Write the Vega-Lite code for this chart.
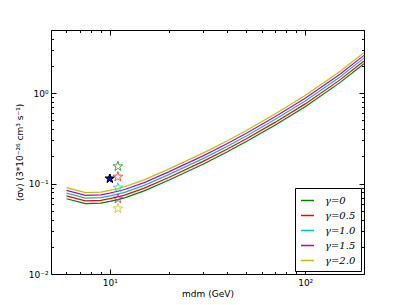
{
  "$schema": "https://vega.github.io/schema/vega-lite/v6.json",
  "autosize": {"type": "none"},
  "padding": {"left": 51, "top": 30, "right": 41, "bottom": 31},
  "width": 313,
  "height": 244,
  "config": {
    "view": {"stroke": "black", "strokeWidth": 1},
    "font": "DejaVu Sans",
    "axis": {"grid": false, "domain": false, "tickColor": "black", "tickWidth": 1, "labelColor": "black", "titleColor": "black", "labelFont": "DejaVu Sans", "titleFont": "DejaVu Sans", "titleFontWeight": "normal", "labelFontSize": 9, "titleFontSize": 9}
  },
  "datasets": {
    "curves": [
      {"m": 6, "sv": 0.068, "g": "γ=0"}, {"m": 7.5, "sv": 0.0600, "g": "γ=0"}, {"m": 9, "sv": 0.0608, "g": "γ=0"}, {"m": 10, "sv": 0.0635, "g": "γ=0"}, {"m": 11, "sv": 0.0665, "g": "γ=0"}, {"m": 12, "sv": 0.0700, "g": "γ=0"}, {"m": 15, "sv": 0.0830, "g": "γ=0"}, {"m": 20, "sv": 0.1090, "g": "γ=0"}, {"m": 30, "sv": 0.1640, "g": "γ=0"}, {"m": 40, "sv": 0.2250, "g": "γ=0"}, {"m": 50, "sv": 0.2920, "g": "γ=0"}, {"m": 70, "sv": 0.4430, "g": "γ=0"}, {"m": 100, "sv": 0.7100, "g": "γ=0"}, {"m": 150, "sv": 1.3000, "g": "γ=0"}, {"m": 200, "sv": 2.1200, "g": "γ=0"},
      {"m": 6, "sv": 0.0730, "g": "γ=0.5"}, {"m": 7.5, "sv": 0.0644, "g": "γ=0.5"}, {"m": 9, "sv": 0.0652, "g": "γ=0.5"}, {"m": 10, "sv": 0.0681, "g": "γ=0.5"}, {"m": 11, "sv": 0.0714, "g": "γ=0.5"}, {"m": 12, "sv": 0.0751, "g": "γ=0.5"}, {"m": 15, "sv": 0.0891, "g": "γ=0.5"}, {"m": 20, "sv": 0.1170, "g": "γ=0.5"}, {"m": 30, "sv": 0.1760, "g": "γ=0.5"}, {"m": 40, "sv": 0.2414, "g": "γ=0.5"}, {"m": 50, "sv": 0.3133, "g": "γ=0.5"}, {"m": 70, "sv": 0.4753, "g": "γ=0.5"}, {"m": 100, "sv": 0.7618, "g": "γ=0.5"}, {"m": 150, "sv": 1.395, "g": "γ=0.5"}, {"m": 200, "sv": 2.275, "g": "γ=0.5"},
      {"m": 6, "sv": 0.0783, "g": "γ=1.0"}, {"m": 7.5, "sv": 0.0691, "g": "γ=1.0"}, {"m": 9, "sv": 0.0700, "g": "γ=1.0"}, {"m": 10, "sv": 0.0732, "g": "γ=1.0"}, {"m": 11, "sv": 0.0766, "g": "γ=1.0"}, {"m": 12, "sv": 0.0806, "g": "γ=1.0"}, {"m": 15, "sv": 0.0956, "g": "γ=1.0"}, {"m": 20, "sv": 0.1256, "g": "γ=1.0"}, {"m": 30, "sv": 0.1889, "g": "γ=1.0"}, {"m": 40, "sv": 0.2592, "g": "γ=1.0"}, {"m": 50, "sv": 0.3364, "g": "γ=1.0"}, {"m": 70, "sv": 0.5103, "g": "γ=1.0"}, {"m": 100, "sv": 0.8179, "g": "γ=1.0"}, {"m": 150, "sv": 1.498, "g": "γ=1.0"}, {"m": 200, "sv": 2.442, "g": "γ=1.0"},
      {"m": 6, "sv": 0.0840, "g": "γ=1.5"}, {"m": 7.5, "sv": 0.0742, "g": "γ=1.5"}, {"m": 9, "sv": 0.0751, "g": "γ=1.5"}, {"m": 10, "sv": 0.0785, "g": "γ=1.5"}, {"m": 11, "sv": 0.0822, "g": "γ=1.5"}, {"m": 12, "sv": 0.0865, "g": "γ=1.5"}, {"m": 15, "sv": 0.1026, "g": "γ=1.5"}, {"m": 20, "sv": 0.1347, "g": "γ=1.5"}, {"m": 30, "sv": 0.2027, "g": "γ=1.5"}, {"m": 40, "sv": 0.2781, "g": "γ=1.5"}, {"m": 50, "sv": 0.3609, "g": "γ=1.5"}, {"m": 70, "sv": 0.5475, "g": "γ=1.5"}, {"m": 100, "sv": 0.8776, "g": "γ=1.5"}, {"m": 150, "sv": 1.607, "g": "γ=1.5"}, {"m": 200, "sv": 2.620, "g": "γ=1.5"},
      {"m": 6, "sv": 0.0902, "g": "γ=2.0"}, {"m": 7.5, "sv": 0.0796, "g": "γ=2.0"}, {"m": 9, "sv": 0.0806, "g": "γ=2.0"}, {"m": 10, "sv": 0.0842, "g": "γ=2.0"}, {"m": 11, "sv": 0.0882, "g": "γ=2.0"}, {"m": 12, "sv": 0.0928, "g": "γ=2.0"}, {"m": 15, "sv": 0.1101, "g": "γ=2.0"}, {"m": 20, "sv": 0.1445, "g": "γ=2.0"}, {"m": 30, "sv": 0.2175, "g": "γ=2.0"}, {"m": 40, "sv": 0.2984, "g": "γ=2.0"}, {"m": 50, "sv": 0.3872, "g": "γ=2.0"}, {"m": 70, "sv": 0.5874, "g": "γ=2.0"}, {"m": 100, "sv": 0.9415, "g": "γ=2.0"}, {"m": 150, "sv": 1.724, "g": "γ=2.0"}, {"m": 200, "sv": 2.811, "g": "γ=2.0"}
    ],
    "stars": [
      {"m": 11, "sv": 0.155, "g": "γ=0"},
      {"m": 11, "sv": 0.119, "g": "γ=0.5"},
      {"m": 11, "sv": 0.090, "g": "γ=1.0"},
      {"m": 11, "sv": 0.068, "g": "γ=1.5"},
      {"m": 11, "sv": 0.053, "g": "γ=2.0"}
    ],
    "best": [
      {"m": 10, "sv": 0.1135}
    ]
  },
  "resolve": {"axis": {"x": "independent", "y": "independent"}},
  "layer": [
    {
      "data": {"name": "curves"},
      "mark": {"type": "line", "strokeWidth": 1.2},
      "encoding": {
        "x": {"field": "m", "type": "quantitative", "scale": {"type": "log", "domain": [5, 200], "nice": false},
          "axis": {"orient": "bottom", "values": [10, 100], "tickSize": -5, "labelPadding": 9,
            "labelExpr": "datum.value == 10 ? '10¹' : '10²'", "title": "mdm (GeV)", "titlePadding": 2}},
        "y": {"field": "sv", "type": "quantitative", "scale": {"type": "log", "domain": [0.01, 5], "nice": false},
          "axis": {"orient": "left", "values": [0.01, 0.1, 1], "tickSize": -5, "labelPadding": 8,
            "labelExpr": "datum.value == 1 ? '10⁰' : datum.value == 0.1 ? '10⁻¹' : '10⁻²'", "title": "⟨σv⟩ (3*10⁻²⁶ cm³ s⁻¹)", "titlePadding": 4}},
        "color": {"field": "g", "type": "nominal",
          "scale": {"domain": ["γ=0", "γ=0.5", "γ=1.0", "γ=1.5", "γ=2.0"], "range": ["#008000", "#ff0000", "#00bfbf", "#bf00bf", "#bfbf00"]},
          "legend": {"orient": "bottom-right", "title": null, "offset": 3, "symbolType": "stroke", "symbolStrokeWidth": 1.5, "symbolSize": 169,
            "strokeColor": "black", "fillColor": "white", "padding": 5, "rowPadding": 2, "labelOffset": 10,
            "labelFont": "DejaVu Serif", "labelFontStyle": "italic", "labelFontSize": 10, "labelColor": "black"}}
      }
    },
    {
      "data": {"name": "stars"},
      "mark": {"type": "point", "shape": "M0,-1L0.225,-0.309L0.951,-0.309L0.363,0.118L0.588,0.809L0,0.382L-0.588,0.809L-0.363,0.118L-0.951,-0.309L-0.225,-0.309Z", "filled": false, "size": 105, "strokeWidth": 1},
      "encoding": {
        "x": {"field": "m", "type": "quantitative",
          "axis": {"orient": "top", "values": [10, 100], "tickSize": -5, "labels": false, "title": null}},
        "y": {"field": "sv", "type": "quantitative",
          "axis": {"orient": "right", "values": [0.01, 0.1, 1], "tickSize": -5, "labels": false, "title": null}},
        "stroke": {"field": "g", "type": "nominal",
          "scale": {"domain": ["γ=0", "γ=0.5", "γ=1.0", "γ=1.5", "γ=2.0"], "range": ["#008000", "#ff0000", "#00bfbf", "#bf00bf", "#bfbf00"]},
          "legend": null}
      }
    },
    {
      "data": {"name": "best"},
      "mark": {"type": "point", "shape": "M0,-1L0.225,-0.309L0.951,-0.309L0.363,0.118L0.588,0.809L0,0.382L-0.588,0.809L-0.363,0.118L-0.951,-0.309L-0.225,-0.309Z", "filled": true, "fill": "#0000ff", "stroke": "black", "strokeWidth": 1, "size": 85, "opacity": 1},
      "encoding": {
        "x": {"field": "m", "type": "quantitative",
          "axis": {"orient": "bottom", "values": [6, 7, 8, 9, 20, 30, 40, 50, 60, 70, 80, 90, 200], "tickSize": -2.5, "labels": false, "title": null}},
        "y": {"field": "sv", "type": "quantitative",
          "axis": {"orient": "left", "values": [0.02, 0.03, 0.04, 0.05, 0.06, 0.07, 0.08, 0.09, 0.2, 0.3, 0.4, 0.5, 0.6, 0.7, 0.8, 0.9, 2, 3, 4, 5], "tickSize": -2.5, "labels": false, "title": null}}
      }
    },
    {
      "data": {"name": "best"},
      "mark": {"type": "point", "shape": "M0,-1L0.225,-0.309L0.951,-0.309L0.363,0.118L0.588,0.809L0,0.382L-0.588,0.809L-0.363,0.118L-0.951,-0.309L-0.225,-0.309Z", "filled": true, "fill": "#0000ff", "stroke": "black", "strokeWidth": 1, "size": 85, "opacity": 1},
      "encoding": {
        "x": {"field": "m", "type": "quantitative",
          "axis": {"orient": "top", "values": [6, 7, 8, 9, 20, 30, 40, 50, 60, 70, 80, 90, 200], "tickSize": -2.5, "labels": false, "title": null}},
        "y": {"field": "sv", "type": "quantitative",
          "axis": {"orient": "right", "values": [0.02, 0.03, 0.04, 0.05, 0.06, 0.07, 0.08, 0.09, 0.2, 0.3, 0.4, 0.5, 0.6, 0.7, 0.8, 0.9, 2, 3, 4, 5], "tickSize": -2.5, "labels": false, "title": null}}
      }
    }
  ]
}
